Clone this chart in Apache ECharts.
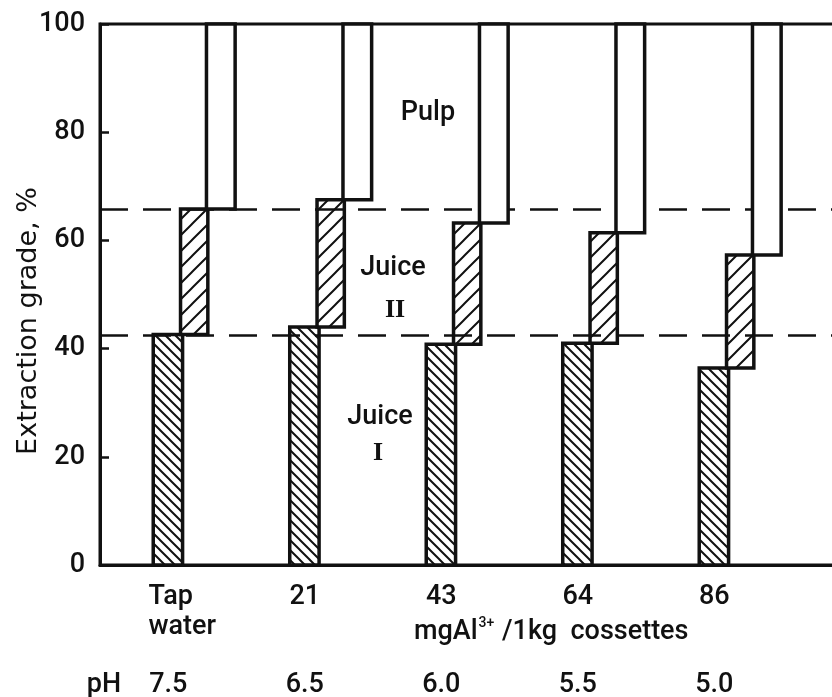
<!DOCTYPE html>
<html>
<head>
<meta charset="utf-8">
<script src="https://cdn.jsdelivr.net/npm/echarts@6/dist/echarts.min.js"></script>
<style>
html,body{margin:0;padding:0;background:#fff;}
#chart{width:832px;height:697px;}
</style>
</head>
<body>
<div id="chart"></div>
<script>
// ---- data ----
var categories = ['Tap\nwater', '21', '43', '64', '86'];
var phValues = ['7.5', '6.5', '6.0', '5.5', '5.0'];
var juiceI = [42.6, 44.0, 40.8, 41.0, 36.4];      // extraction grade, juice I (%)
var juiceII = [23.2, 23.5, 22.4, 20.4, 20.9];     // extraction grade, juice II (%)
var pulp = [34.2, 32.5, 36.8, 38.6, 42.7];        // remainder in pulp (%)
var dashedLevels = [65.7, 42.5];
var yTicks = [0, 20, 40, 60, 80, 100];

// ---- hatch patterns ----
function hatch(size, dir, lw) {
  var c = document.createElement('canvas');
  c.width = size; c.height = size;
  var g = c.getContext('2d');
  g.fillStyle = '#fff'; g.fillRect(0, 0, size, size);
  g.strokeStyle = '#111'; g.lineWidth = lw; g.lineCap = 'square';
  g.beginPath();
  if (dir === 'back') {
    g.moveTo(-1, -1); g.lineTo(size + 1, size + 1);
    g.moveTo(-2, size - 2); g.lineTo(2, size + 2);
    g.moveTo(size - 2, -2); g.lineTo(size + 2, 2);
  } else {
    g.moveTo(-1, size + 1); g.lineTo(size + 1, -1);
    g.moveTo(-2, 2); g.lineTo(2, -2);
    g.moveTo(size - 2, size + 2); g.lineTo(size + 2, size - 2);
  }
  g.stroke();
  return { image: c, repeat: 'repeat' };
}
var hatchI = hatch(10, 'back', 2);
var hatchII = hatch(16, 'fwd', 2);

// build series tables from arrays
var dataI = [], dataII = [], dataP = [];
for (var i = 0; i < categories.length; i++) {
  var a = juiceI[i], b = juiceI[i] + juiceII[i], c = b + pulp[i];
  dataI.push([i, 0, a]);
  dataII.push([i, a, b]);
  dataP.push([i, b, c]);
}

function makeRender(f0, f1, fill) {
  return function (params, api) {
    var idx = api.value(0);
    var lo = api.coord([idx, api.value(1)]);
    var hi = api.coord([idx, api.value(2)]);
    var bw = api.size([1, 0])[0];
    var x0 = lo[0] + f0 * bw, x1 = lo[0] + f1 * bw;
    return {
      type: 'rect',
      shape: { x: x0, y: hi[1], width: x1 - x0, height: lo[1] - hi[1] },
      style: { fill: fill, stroke: '#111', lineWidth: 3.5 }
    };
  };
}

var TXT = '#111';
var FW = 500;
var chart = echarts.init(document.getElementById('chart'), null, { renderer: 'canvas' });
chart.setOption({
  animation: false,
  backgroundColor: '#fff',
  grid: { left: 100, top: 24, width: 819, height: 541, outerBoundsMode: 'none', containLabel: false,
          show: true, borderColor: '#111', borderWidth: 3, backgroundColor: 'transparent' },
  xAxis: [{
    type: 'category',
    data: categories.concat(['']),
    boundaryGap: true,
    axisLine: { lineStyle: { color: '#111', width: 3 } },
    axisTick: { show: false },
    axisLabel: {
      interval: 0, hideOverlap: false,
      margin: 17, color: TXT, fontFamily: 'Roboto', fontWeight: FW, fontSize: 27, lineHeight: 30,
      verticalAlign: 'top',
      formatter: function (v, i) { return i === 0 ? '{l|Tap}\n{l|water}' : v; },
      rich: { l: { align: 'left', padding: [0, 0, 0, 28], fontFamily: 'Roboto', fontWeight: FW, fontSize: 27, lineHeight: 30, color: TXT } }
    },
    splitLine: { show: false }
  }, {
    type: 'category',
    data: phValues.concat(['']),
    position: 'bottom',
    offset: 88,
    axisLine: { show: false },
    axisTick: { show: false },
    axisLabel: { interval: 0, hideOverlap: false, margin: 17, color: TXT, fontFamily: 'Roboto', fontWeight: FW, fontSize: 27, lineHeight: 30, verticalAlign: 'top' },
    splitLine: { show: false }
  }],
  yAxis: {
    type: 'value', min: 0, max: 100, interval: 20,
    axisLine: { show: true, lineStyle: { color: '#111', width: 3 } },
    axisTick: { show: true, inside: true, length: 9, lineStyle: { color: '#111', width: 2.5 } },
    axisLabel: { margin: 15, color: TXT, fontFamily: 'Roboto', fontWeight: FW, fontSize: 27 },
    splitLine: { show: false }
  },
  series: [
    { type: 'custom', name: 'Juice I', data: dataI, encode: { x: 0, y: [1, 2] }, renderItem: makeRender(-0.11, 0.105, hatchI), z: 3 },
    { type: 'custom', name: 'Juice II', data: dataII, encode: { x: 0, y: [1, 2] }, renderItem: makeRender(0.09, 0.29, hatchII), z: 4 },
    { type: 'custom', name: 'Pulp', data: dataP, encode: { x: 0, y: [1, 2] }, renderItem: makeRender(0.28, 0.49, '#fff'), z: 5 },
    {
      type: 'line', data: [], z: 10,
      markLine: {
        silent: true, symbol: 'none', label: { show: false },
        lineStyle: { color: '#111', width: 2.5, type: [28, 15] },
        data: dashedLevels.map(function (v) { return { yAxis: v }; })
      }
    }
  ],
  graphic: [
    { type: 'text', z: 100, x: 29, y: 321, rotation: Math.PI / 2, style: { text: 'Extraction grade, %', fill: TXT, font: '500 27px "DejaVu Sans"', align: 'center', verticalAlign: 'middle' } },
    { type: 'text', z: 100, x: 428, y: 113, style: { text: 'Pulp', fill: TXT, font: '500 27px Roboto', align: 'center', verticalAlign: 'middle' } },
    { type: 'text', z: 100, x: 393, y: 268, style: { text: 'Juice', fill: TXT, font: '500 27px Roboto', align: 'center', verticalAlign: 'middle' } },
    { type: 'text', z: 100, x: 395, y: 310, style: { text: 'II', fill: TXT, font: 'bold 26px "Liberation Serif"', align: 'center', verticalAlign: 'middle' } },
    { type: 'text', z: 100, x: 380, y: 417, style: { text: 'Juice', fill: TXT, font: '500 27px Roboto', align: 'center', verticalAlign: 'middle' } },
    { type: 'text', z: 100, x: 378, y: 453, style: { text: 'I', fill: TXT, font: 'bold 26px "Liberation Serif"', align: 'center', verticalAlign: 'middle' } },
    { type: 'text', z: 100, x: 104, y: 685, style: { text: 'pH', fill: TXT, font: '500 27px Roboto', align: 'center', verticalAlign: 'middle' } },
    { type: 'text', z: 100, x: 414, y: 632, style: {
        text: '{n|mgAl}{s|3+}{n| /1kg  cossettes}', align: 'left', verticalAlign: 'middle',
        rich: {
          n: { fontFamily: 'Roboto', fontWeight: FW, fontSize: 27, lineHeight: 30, fill: TXT },
          s: { fontFamily: 'Roboto', fontWeight: FW, fontSize: 14, lineHeight: 14, padding: [0, 1, 18, 1], fill: TXT }
        }
    } }
  ]
});
</script>
</body>
</html>
